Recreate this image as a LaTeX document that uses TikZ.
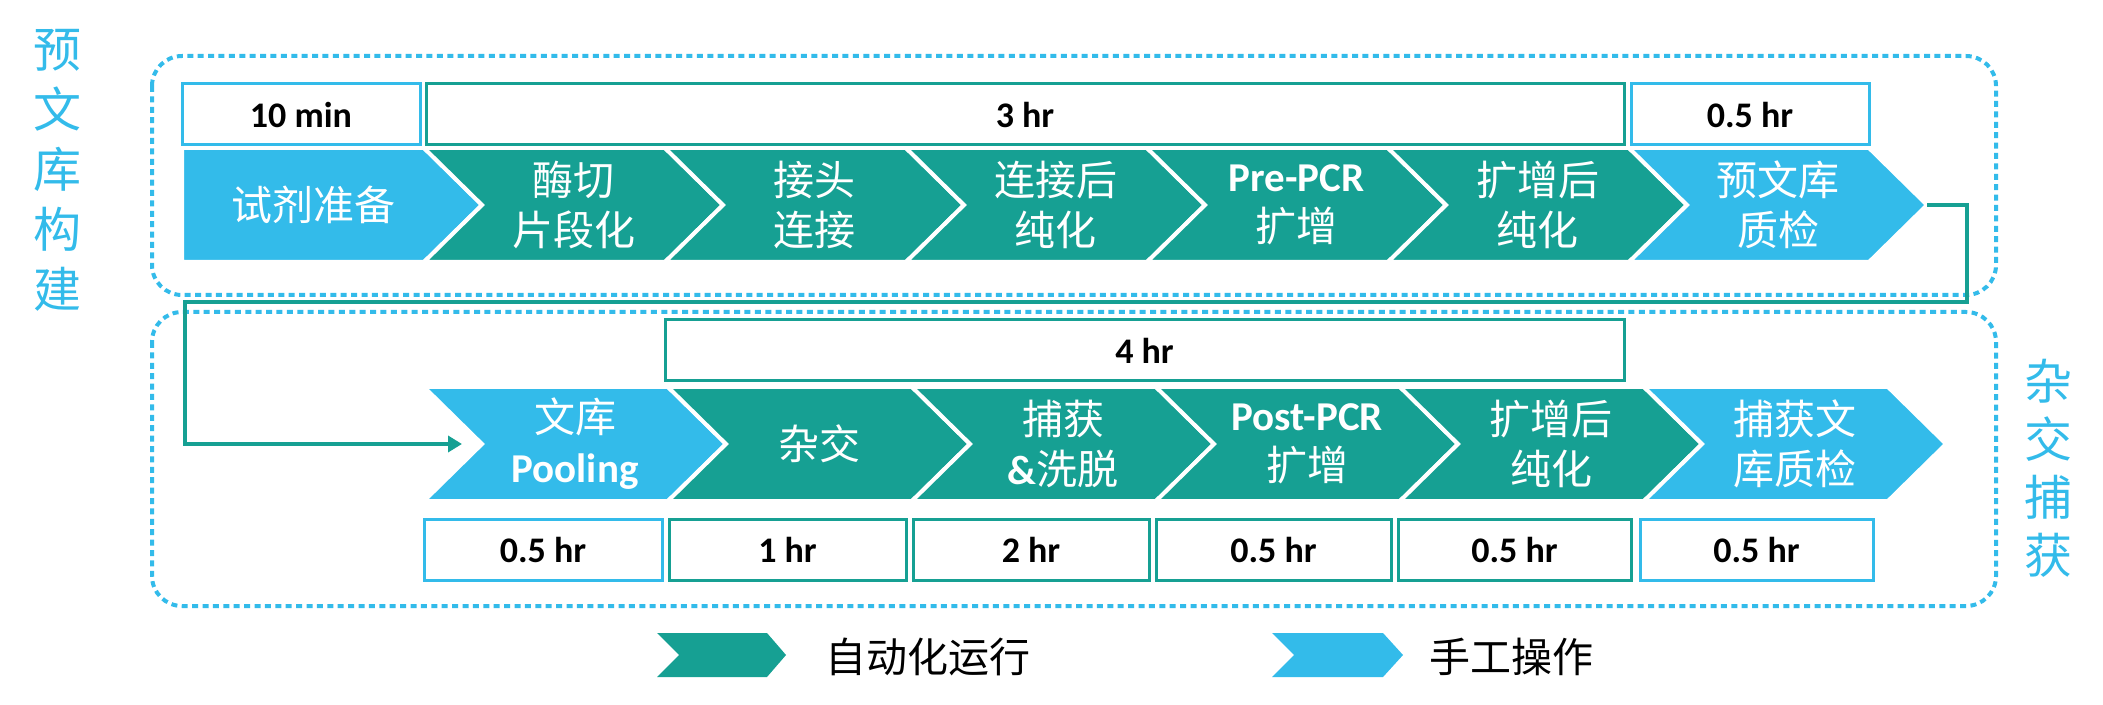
\documentclass[tikz,border=0pt]{standalone}
\usepackage{fontspec}
\setmainfont{Carlito}
\newfontfamily\cjk{Noto Sans CJK SC}
\usetikzlibrary{arrows.meta}
\definecolor{teal1}{RGB}{22,160,147}
\definecolor{sky}{RGB}{51,187,234}
\newcommand\chev[6]{%
  \fill[#4, draw=white, line width=2pt] (#1,#2) -- ++(#3,0) -- ++(58,57) -- ++(-58,57) -- ++(-#3,0) -- ++(58,-57) -- cycle;
  \node[chevtxt] (#5) at ({#1+#3/2+29}, {#2+57}) {#6};
}
\begin{document}
\begin{tikzpicture}[x=0.5pt,y=-0.5pt,
  chevtxt/.style={text=white, align=center, font=\fontsize{20.5}{25}\selectfont\cjk, inner sep=0},
  lat/.style={font=\fontsize{21}{25}\selectfont\bfseries},
  timebox/.style={draw, line width=1.5pt, fill=white, inner sep=0, font=\fontsize{18}{20}\selectfont\bfseries, text=black, minimum height=30.5pt},
  grp/.style={draw=sky, line width=2pt, dash pattern=on 3pt off 2.2pt, rounded corners=15pt},
  link/.style={draw=teal1, line width=2pt},
  side/.style={text=sky, align=center, inner sep=0},
  legtxt/.style={text=black, font=\fontsize{20.5}{24}\selectfont\cjk, inner sep=0},
]
\useasboundingbox (0,0) rectangle (2103,705);

% group frames
\draw[grp] (152,56) rectangle (1996,295);
\draw[grp] (152,312) rectangle (1996,606);

% side labels
\node[side, font=\fontsize{24}{30}\selectfont\cjk] (lbl1) at (57,170) {预\\文\\库\\构\\建};
\node[side, font=\fontsize{24}{29}\selectfont\cjk] (lbl2) at (2048,468) {杂\\交\\捕\\获};

% top row chevrons
\fill[sky, draw=white, line width=2pt] (182,148) -- (424,148) -- (482,205) -- (424,262) -- (182,262) -- cycle;
\node[chevtxt] (s1) at (313,205) {试剂准备};
\chev{424}{148}{241}{teal1}{s2}{酶切\\片段化}
\chev{665}{148}{241}{teal1}{s3}{接头\\连接}
\chev{906}{148}{241}{teal1}{s4}{连接后\\纯化}
\chev{1147}{148}{241}{teal1}{s5}{{\rmfamily\bfseries Pre-PCR}\\扩增}
\chev{1388}{148}{241}{teal1}{s6}{扩增后\\纯化}
\chev{1629}{148}{240}{sky}{s7}{预文库\\质检}
\coordinate (qctip) at (1927,205);

% bottom row chevrons
\chev{424}{387}{244}{sky}{b1}{文库\\{\rmfamily\bfseries Pooling}}
\chev{668}{387}{244}{teal1}{b2}{杂交}
\chev{912}{387}{244}{teal1}{b3}{捕获\\{\rmfamily\bfseries\&}洗脱}
\chev{1156}{387}{244}{teal1}{b4}{{\rmfamily\bfseries Post-PCR}\\扩增}
\chev{1400}{387}{244}{teal1}{b5}{扩增后\\纯化}
\chev{1644}{387}{244}{sky}{b6}{捕获文\\库质检}
\coordinate (poolnotch) at (469,444);

% connector
\draw[link, -{Triangle[length=7pt,width=8pt]}, shorten >=3.5pt]
  (qctip) -- (1967,205) -- (1967,302) -- (185,302) |- (poolnotch);

% time boxes top
\node[timebox, draw=sky, minimum width=119pt] (t1) at (301,114.5) {10 min};
\node[timebox, draw=teal1, minimum width=599pt] (t2) at (1025,114.5) {3 hr};
\node[timebox, draw=sky, minimum width=119pt] (t3) at (1750,114.5) {0.5 hr};
\node[timebox, draw=teal1, minimum width=479.5pt] (t4) at (1144.5,350.5) {4 hr};

% time boxes bottom
\node[timebox, draw=sky, minimum width=119pt] (u1) at (543,549.5) {0.5 hr};
\node[timebox, draw=teal1, minimum width=118.5pt] (u2) at (787.5,549.5) {1 hr};
\node[timebox, draw=teal1, minimum width=118pt] (u3) at (1031,549.5) {2 hr};
\node[timebox, draw=teal1, minimum width=117.5pt] (u4) at (1273.5,549.5) {0.5 hr};
\node[timebox, draw=teal1, minimum width=116.5pt] (u5) at (1514.5,549.5) {0.5 hr};
\node[timebox, draw=sky, minimum width=116.5pt] (u6) at (1756.5,549.5) {0.5 hr};

% legend
\fill[teal1] (657,633) -- (767,633) -- (786,655) -- (767,677) -- (657,677) -- (679,655) -- cycle;
\node[legtxt] (lg1) at (928,657) {自动化运行};
\fill[sky] (1272,633) -- (1383,633) -- (1403,655) -- (1383,677) -- (1272,677) -- (1294,655) -- cycle;
\node[legtxt] (lg2) at (1511,657) {手工操作};
\end{tikzpicture}
\end{document}
